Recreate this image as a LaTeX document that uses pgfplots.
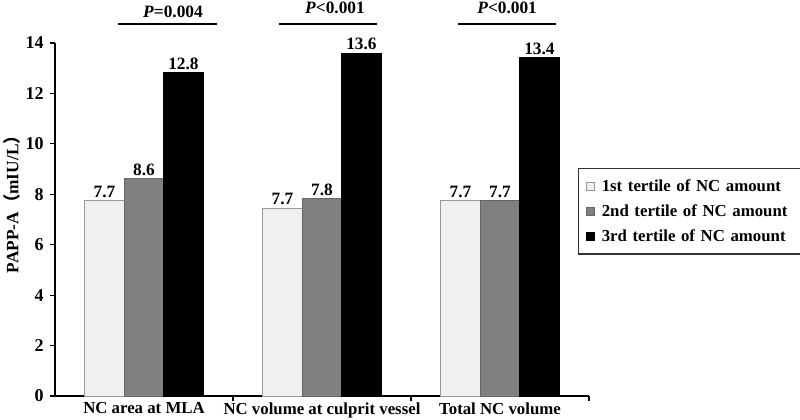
\documentclass[border=0pt]{standalone}
\usepackage{fontspec}
\setmainfont{Liberation Serif}
\newfontfamily\cjk{Noto Sans CJK SC}
\usepackage{pgfplots}
\pgfplotsset{compat=1.18}
\usepackage{pgfplotstable}

\pgfplotstableread{
x y lab
0 7.75 7.7
1 7.45 7.7
2 7.75 7.7
}\first
\pgfplotstableread{
x y lab
0 8.62 8.6
1 7.82 7.8
2 7.75 7.7
}\second
\pgfplotstableread{
x y lab
0 12.82 12.8
1 13.6 13.6
2 13.42 13.4
}\third

\newcommand{\ft}{\fontsize{12.6}{14}\selectfont\bfseries}
\begin{document}
\begin{tikzpicture}
\useasboundingbox (-41.25pt,-18pt) rectangle (558.75pt,297pt);
\begin{axis}[
  at={(0pt,0pt)}, anchor=south west,
  scale only axis, width=400.5pt, height=264.75pt,
  xmin=-0.5, xmax=2.5, ymin=0, ymax=14,
  ybar=0pt, bar width=29.6pt,
  axis lines=left, axis line style={line width=1.1pt,-},
  clip=false,
  font=\ft,
  /pgf/number format/assume math mode=true,
  ytick={0,2,...,14},
  yticklabel style={font=\fontsize{13.5}{15}\selectfont\bfseries, xshift=-1pt},
  tick align=outside, major tick length=4pt,
  tick style={line width=0.9pt,black},
  xtick={0.5,1.5,2.5}, xticklabels={},
  extra x ticks={0,1,2},
  extra x tick labels={NC area at MLA, NC volume at culprit vessel, Total NC volume},
  extra x tick style={major tick length=0pt, tick label style={yshift=-1.5pt}},
  ylabel={PAPP-A{\cjk （}mIU/L{\cjk ）}},
  ylabel style={at={(axis description cs:-0.081,0.555)}, rotate=0, anchor=center, font=\fontsize{13}{15}\selectfont\bfseries},
  nodes near coords,
  point meta=explicit symbolic,
  nodes near coords style={font=\fontsize{13}{15}\selectfont\bfseries, anchor=south, inner sep=2pt},
  legend style={at={(axis description cs:0.979,0.646)}, anchor=north west,
    draw=black!80, line width=1pt, font=\ft,
    row sep=6.5pt, column sep=4pt, inner xsep=6pt, inner ysep=7pt,
    nodes={inner sep=1pt, text width=150pt, align=left}},
  legend cell align=left,
  legend image code/.code={\draw[#1, line width=0.5pt] (0pt,-3pt) rectangle (6pt,3pt);},
]
\addplot[fill=black!6, draw=black!40, line width=0.6pt] table[x=x,y=y,meta=lab] {\first};
\addplot[fill=black!50, draw=black!60, line width=0.6pt] table[x=x,y=y,meta=lab] {\second};
\addplot[fill=black, draw=black, line width=0.6pt] table[x=x,y=y,meta=lab] {\third};
\legend{1st tertile of NC amount, 2nd tertile of NC amount, 3rd tertile of NC amount}

\draw[line width=1.4pt] (axis cs:-0.146,14.74) -- (axis cs:0.41,14.74);
\draw[line width=1.4pt] (axis cs:0.758,14.74) -- (axis cs:1.309,14.74);
\draw[line width=1.4pt] (axis cs:1.764,14.74) -- (axis cs:2.315,14.74);
\node[font=\fontsize{13}{15}\selectfont\bfseries] at (axis cs:0.163,15.25) {\textit{P}=0.004};
\node[font=\fontsize{13}{15}\selectfont\bfseries] at (axis cs:1.073,15.4) {\textit{P}<0.001};
\node[font=\fontsize{13}{15}\selectfont\bfseries] at (axis cs:2.04,15.4) {\textit{P}<0.001};
\end{axis}
\end{tikzpicture}
\end{document}
